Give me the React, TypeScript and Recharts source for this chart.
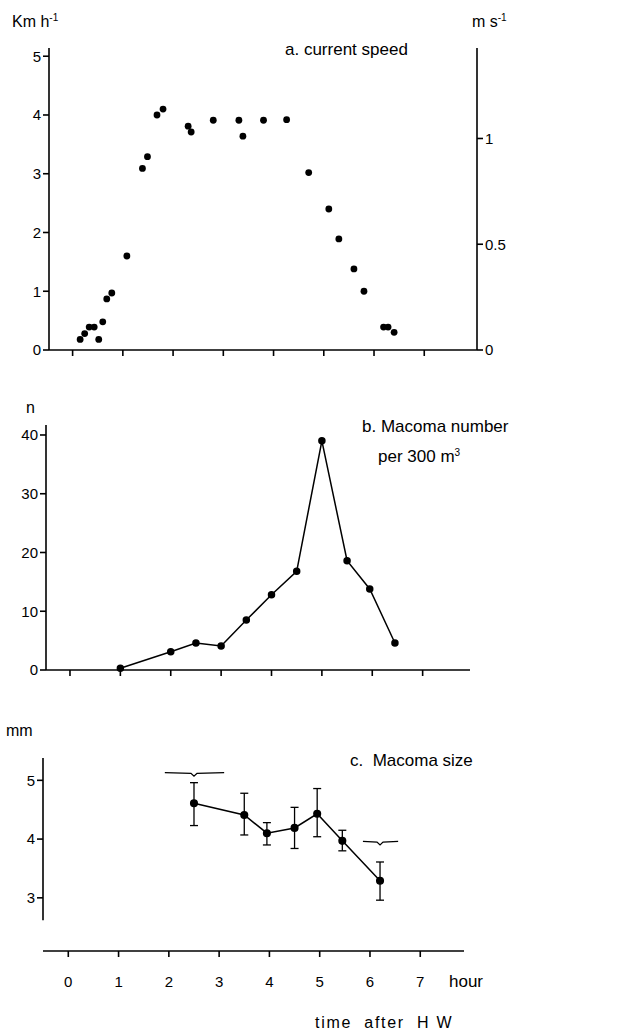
import React from 'react';
import {
  ScatterChart, Scatter, ComposedChart, Line, XAxis, YAxis, ErrorBar, ReferenceLine,
} from 'recharts';

// a. current speed (km/h) against hours after high water
const speedHours = [0.15, 0.24, 0.33, 0.43, 0.52, 0.6, 0.68, 0.78, 1.08, 1.39, 1.49, 1.68, 1.8, 2.3, 2.36, 2.8, 3.31, 3.39, 3.8, 4.26, 4.7, 5.1, 5.3, 5.6, 5.8, 6.19, 6.28, 6.4];
const speedKmh = [0.18, 0.28, 0.39, 0.39, 0.18, 0.48, 0.87, 0.97, 1.6, 3.09, 3.29, 4.0, 4.1, 3.81, 3.71, 3.91, 3.91, 3.64, 3.91, 3.92, 3.02, 2.4, 1.89, 1.38, 1.0, 0.39, 0.39, 0.3];

// b. Macoma number per 300 m3
const numberHours = [1, 2, 2.5, 3, 3.5, 4, 4.5, 5, 5.5, 5.95, 6.45];
const numberValues = [0.3, 3.1, 4.6, 4.1, 8.5, 12.8, 16.8, 39, 18.6, 13.8, 4.6];

// c. Macoma size (mm), mean with range
const sizeHours = [2.5, 3.5, 3.95, 4.5, 4.95, 5.45, 6.2];
const sizeMean = [4.61, 4.41, 4.1, 4.19, 4.43, 3.97, 3.29];
const sizeHigh = [4.96, 4.78, 4.28, 4.54, 4.86, 4.15, 3.61];
const sizeLow = [4.23, 4.07, 3.9, 3.84, 4.04, 3.8, 2.96];

// braces over the pooled samples
const braceEarly = [
  { h: 1.92, v: 5.13 }, { h: 2.44, v: 5.12 }, { h: 2.5, v: 5.07 }, { h: 2.56, v: 5.12 }, { h: 3.1, v: 5.13 },
];
const braceLate = [
  { h: 5.86, v: 3.96 }, { h: 6.14, v: 3.95 }, { h: 6.2, v: 3.9 }, { h: 6.26, v: 3.95 }, { h: 6.56, v: 3.96 },
];

const hourTicks = [0, 1, 2, 3, 4, 5, 6, 7];
const KMH_PER_MS = 3.6;

const speedData = speedHours.map((h, i) => ({ h, v: speedKmh[i], ms: speedKmh[i] / KMH_PER_MS }));
const numberData = numberHours.map((h, i) => ({ h, v: numberValues[i] }));
const sizeData = sizeHours.map((h, i) => ({
  h,
  v: sizeMean[i],
  err: [sizeMean[i] - sizeLow[i], sizeHigh[i] - sizeMean[i]],
}));

const FONT = '"Liberation Sans", Arial, sans-serif';
const tickStyle = { fill: '#000', fontSize: 15, fontFamily: FONT };
const axisLine = { stroke: '#000', strokeWidth: 1.6 };
const blank = () => '';
const sup = (s: string) => (
  <span style={{ fontSize: 10, position: 'relative', top: -6, lineHeight: 0 }}>{s}</span>
);

const txt = (left: number, top: number, s: React.ReactNode, extra: React.CSSProperties = {}) => (
  <div style={{ position: 'absolute', left, top, fontSize: 16, lineHeight: '18px', whiteSpace: 'pre', ...extra }}>{s}</div>
);

export default function App() {
  return (
    <div style={{ position: 'absolute', left: 0, top: 0, width: 626, height: 1032, background: '#fff', fontFamily: FONT, color: '#000' }}>
      <div style={{ position: 'absolute', left: 0, top: 0 }}>
        <ScatterChart width={626} height={370} margin={{ top: 48, right: 0, bottom: 0, left: 0 }}>
          <XAxis dataKey="h" type="number" domain={[-0.47, 8.05]} ticks={hourTicks} tickFormatter={blank}
            axisLine={axisLine} tickLine={axisLine} height={20} />
          <YAxis yAxisId="kmh" type="number" domain={[0, 5.14]} ticks={[0, 1, 2, 3, 4, 5]}
            width={49} axisLine={axisLine} tickLine={axisLine} tick={tickStyle} />
          <YAxis yAxisId="ms" orientation="right" type="number" domain={[0, 5.14 / KMH_PER_MS]} ticks={[0, 0.5, 1]}
            allowDataOverflow width={149} axisLine={axisLine} tickLine={axisLine} tick={tickStyle} />
          <Scatter yAxisId="ms" data={speedData} dataKey="ms" isAnimationActive={false} shape={() => <g />} />
          <Scatter yAxisId="kmh" data={speedData} dataKey="v" fill="#000" isAnimationActive={false}
            shape={(p: any) => <circle cx={p.cx} cy={p.cy} r={3.4} fill="#000" />} />
        </ScatterChart>
      </div>

      <div style={{ position: 'absolute', left: 0, top: 400 }}>
        <ComposedChart width={626} height={290} margin={{ top: 25, right: 156, bottom: 0, left: 0 }}>
          <XAxis dataKey="h" type="number" domain={[-0.476, 7.94]} ticks={hourTicks} tickFormatter={blank}
            axisLine={axisLine} tickLine={axisLine} height={20} />
          <YAxis type="number" domain={[0, 41.7]} ticks={[0, 10, 20, 30, 40]} width={46}
            axisLine={axisLine} tickLine={axisLine} tick={tickStyle} />
          <Line data={numberData} dataKey="v" stroke="#000" strokeWidth={1.5} isAnimationActive={false}
            dot={{ r: 3, fill: '#000', stroke: '#000' }} />
        </ComposedChart>
      </div>

      <div style={{ position: 'absolute', left: 0, top: 730 }}>
        <ComposedChart width={626} height={266} margin={{ top: 28, right: 162, bottom: 0, left: 0 }}>
          <XAxis dataKey="h" type="number" domain={[-0.503, 7.87]} ticks={hourTicks} tickMargin={19}
            axisLine={axisLine} tickLine={axisLine} tick={tickStyle} height={45} />
          <YAxis type="number" domain={[2.095, 5.38]} ticks={[3, 4, 5]} width={43}
            axisLine={false} tickLine={axisLine} tick={tickStyle} />
          <ReferenceLine segment={[{ x: -0.503, y: 2.62 }, { x: -0.503, y: 5.38 }]} stroke="#000" strokeWidth={1.6} />
          <Line data={sizeData} dataKey="v" stroke="#000" strokeWidth={1.5} isAnimationActive={false}
            dot={{ r: 3.3, fill: '#000', stroke: '#000' }}>
            <ErrorBar dataKey="err" direction="y" width={4} stroke="#000" strokeWidth={1.3} />
          </Line>
          <Line data={braceEarly} dataKey="v" stroke="#000" strokeWidth={1.3} dot={false} isAnimationActive={false} />
          <Line data={braceLate} dataKey="v" stroke="#000" strokeWidth={1.3} dot={false} isAnimationActive={false} />
        </ComposedChart>
      </div>

      {txt(12, 13, <span>Km h{sup('-1')}</span>)}
      {txt(472, 13, <span>m s{sup('-1')}</span>)}
      {txt(285, 41, 'a. current speed', { fontSize: 17 })}
      {txt(26, 399, 'n')}
      {txt(362, 418, 'b. Macoma number', { fontSize: 17 })}
      {txt(378, 448, <span>per 300 m{sup('3')}</span>, { fontSize: 17 })}
      {txt(6, 722, 'mm')}
      {txt(350, 752, 'c.  Macoma size', { fontSize: 17 })}
      {txt(449, 973, 'hour', { fontSize: 17 })}
      {txt(315, 1014, 'time  after  H W', { letterSpacing: 1.7, fontSize: 16 })}
    </div>
  );
}
